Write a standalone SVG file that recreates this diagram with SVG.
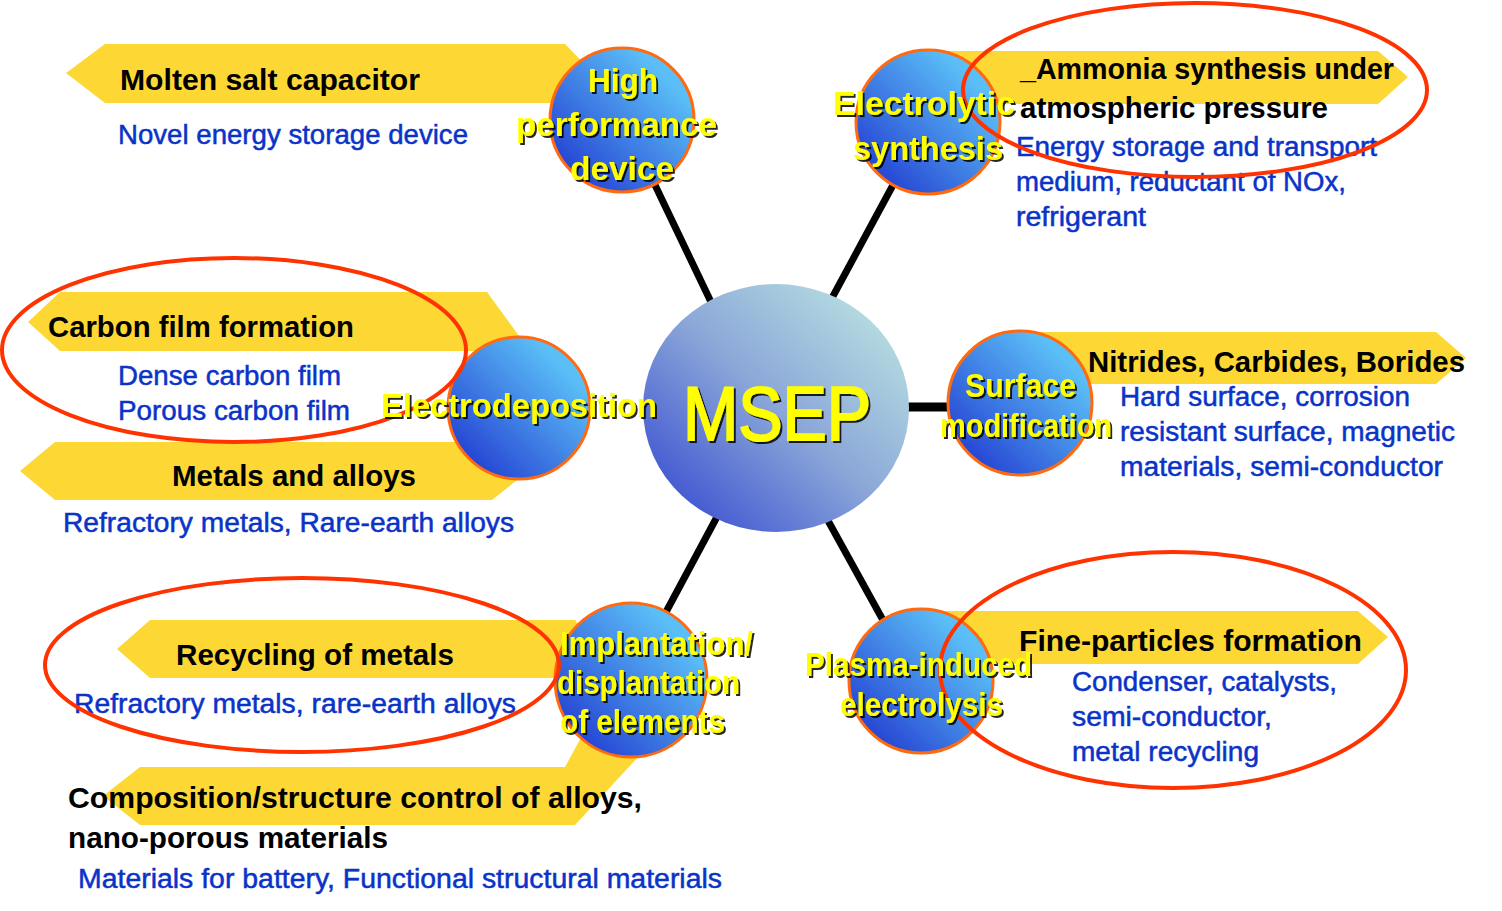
<svg xmlns="http://www.w3.org/2000/svg" width="1502" height="911" viewBox="0 0 1502 911">
<defs>
<linearGradient id="gSat" x1="0" y1="1" x2="1" y2="0">
<stop offset="0" stop-color="#1a2ccc"/>
<stop offset="0.45" stop-color="#3f7ee4"/>
<stop offset="0.8" stop-color="#5bbef7"/>
<stop offset="1" stop-color="#5ec6fa"/>
</linearGradient>
<linearGradient id="gHub" x1="0" y1="1" x2="1" y2="0">
<stop offset="0" stop-color="#2a3ed0"/>
<stop offset="0.5" stop-color="#8aa6d8"/>
<stop offset="0.85" stop-color="#b2d8e0"/>
<stop offset="1" stop-color="#b6e0e0"/>
</linearGradient>
<filter id="sh" x="-10%" y="-20%" width="120%" height="150%">
<feDropShadow dx="2" dy="2" stdDeviation="0.7" flood-color="#000" flood-opacity="0.85"/>
</filter>
</defs>
<style>
.ban{fill:#fdd835}
.sat{fill:url(#gSat);stroke:#ff6a10;stroke-width:3}
.ring{fill:none;stroke:#ff3300;stroke-width:4}
.blk{font-family:"Liberation Sans",Arial,sans-serif;font-size:30px;font-weight:bold;fill:#000}
.blu{font-family:"Liberation Sans",Arial,sans-serif;font-size:27px;fill:#0a33c8;stroke:#0a33c8;stroke-width:0.5}
.lbl{font-family:"Liberation Sans",Arial,sans-serif;font-size:33px;font-weight:bold;fill:#ffff00;filter:url(#sh)}
.con{stroke:#000;stroke-width:7;fill:none}
</style>
<rect width="1502" height="911" fill="#fff"/>

<g id="connectors">
<line class="con" x1="655" y1="185" x2="711" y2="302"/>
<line class="con" x1="893" y1="185" x2="832" y2="298"/>
<line class="con" x1="905" y1="407" x2="950" y2="407" style="stroke-width:9"/>
<line class="con" x1="718" y1="515" x2="666" y2="612"/>
<line class="con" x1="826" y1="517" x2="884" y2="622"/>
</g>

<g id="hub">
<ellipse cx="776" cy="408" rx="133" ry="124" fill="url(#gHub)"/>
<text class="lbl" x="683" y="440" style="font-size:76px;font-weight:normal;stroke:#ffff00;stroke-width:2" textLength="188" lengthAdjust="spacingAndGlyphs">MSEP</text>
</g>

<g id="node-high-performance-device">
<polygon class="ban" points="66,73 105,44 565,44 600,80 600,103 105,103"/>
<circle class="sat" cx="622" cy="120" r="72"/>
<text class="blk" x="120" y="90" textLength="300" lengthAdjust="spacingAndGlyphs">Molten salt capacitor</text>
<text class="blu" x="118" y="144" textLength="350" lengthAdjust="spacingAndGlyphs">Novel energy storage device</text>
<text class="lbl" x="588" y="92" textLength="70" lengthAdjust="spacingAndGlyphs">High</text>
<text class="lbl" x="516" y="136" textLength="201" lengthAdjust="spacingAndGlyphs">performance</text>
<text class="lbl" x="570" y="180" textLength="104" lengthAdjust="spacingAndGlyphs">device</text>
</g>

<g id="node-electrolytic-synthesis">
<polygon class="ban" points="935,51 1378,51 1408,77 1378,104 935,104"/>
<circle class="sat" cx="928" cy="122" r="72"/>
<text class="blk" x="1020" y="79" textLength="374" lengthAdjust="spacingAndGlyphs">_Ammonia synthesis under</text>
<text class="blk" x="1020" y="118" textLength="308" lengthAdjust="spacingAndGlyphs">atmospheric pressure</text>
<text class="blu" x="1016" y="156" textLength="361" lengthAdjust="spacingAndGlyphs">Energy storage and transport</text>
<text class="blu" x="1016" y="191" textLength="330" lengthAdjust="spacingAndGlyphs">medium, reductant of NOx,</text>
<text class="blu" x="1016" y="226" textLength="130" lengthAdjust="spacingAndGlyphs">refrigerant</text>
<ellipse class="ring" cx="1195" cy="90" rx="232" ry="87"/>
<text class="lbl" x="833" y="115" textLength="182" lengthAdjust="spacingAndGlyphs">Electrolytic</text>
<text class="lbl" x="853" y="160" textLength="150" lengthAdjust="spacingAndGlyphs">synthesis</text>
</g>

<g id="node-electrodeposition">
<polygon class="ban" points="28,322 60,292 487,292 530,351 60,351"/>
<polygon class="ban" points="20,471 55,442 530,442 530,470 492,500 55,500"/>
<circle class="sat" cx="519" cy="408" r="71"/>
<text class="blk" x="48" y="337" textLength="306" lengthAdjust="spacingAndGlyphs">Carbon film formation</text>
<text class="blu" x="118" y="385" textLength="223" lengthAdjust="spacingAndGlyphs">Dense carbon film</text>
<text class="blu" x="118" y="420" textLength="232" lengthAdjust="spacingAndGlyphs">Porous carbon film</text>
<text class="blk" x="172" y="486" textLength="244" lengthAdjust="spacingAndGlyphs">Metals and alloys</text>
<text class="blu" x="63" y="532" textLength="451" lengthAdjust="spacingAndGlyphs">Refractory metals, Rare-earth alloys</text>
<ellipse class="ring" cx="234" cy="350" rx="232" ry="92"/>
<text class="lbl" x="381" y="417" textLength="276" lengthAdjust="spacingAndGlyphs">Electrodeposition</text>
</g>

<g id="node-surface-modification">
<polygon class="ban" points="1030,332 1436,332 1466,358 1436,384 1030,384"/>
<circle class="sat" cx="1020" cy="403" r="72"/>
<text class="blk" x="1088" y="372" textLength="377" lengthAdjust="spacingAndGlyphs">Nitrides, Carbides, Borides</text>
<text class="blu" x="1120" y="406" textLength="290" lengthAdjust="spacingAndGlyphs">Hard surface, corrosion</text>
<text class="blu" x="1120" y="441" textLength="335" lengthAdjust="spacingAndGlyphs">resistant surface, magnetic</text>
<text class="blu" x="1120" y="476" textLength="323" lengthAdjust="spacingAndGlyphs">materials, semi-conductor</text>
<text class="lbl" x="965" y="397" textLength="111" lengthAdjust="spacingAndGlyphs">Surface</text>
<text class="lbl" x="940" y="437" textLength="172" lengthAdjust="spacingAndGlyphs">modification</text>
</g>

<g id="node-implantation">
<polygon class="ban" points="117,649 150,620 575,620 600,650 600,678 150,678"/>
<polygon class="ban" points="103,796 140,767 565,767 595,712 680,712 575,825 140,825"/>
<ellipse class="sat" cx="631" cy="680" rx="76" ry="77"/>
<text class="blk" x="176" y="665" textLength="278" lengthAdjust="spacingAndGlyphs">Recycling of metals</text>
<text class="blu" x="74" y="713" textLength="442" lengthAdjust="spacingAndGlyphs">Refractory metals, rare-earth alloys</text>
<text class="blk" x="68" y="808" textLength="574" lengthAdjust="spacingAndGlyphs">Composition/structure control of alloys,</text>
<text class="blk" x="68" y="848" textLength="320" lengthAdjust="spacingAndGlyphs">nano-porous materials</text>
<text class="blu" x="78" y="888" textLength="644" lengthAdjust="spacingAndGlyphs">Materials for battery, Functional structural materials</text>
<ellipse class="ring" cx="302" cy="665" rx="257" ry="87"/>
<text class="lbl" x="560" y="655" textLength="193" lengthAdjust="spacingAndGlyphs">Implantation/</text>
<text class="lbl" x="557" y="694" textLength="183" lengthAdjust="spacingAndGlyphs">displantation</text>
<text class="lbl" x="560" y="733" textLength="165" lengthAdjust="spacingAndGlyphs">of elements</text>
</g>

<g id="node-plasma-induced-electrolysis">
<polygon class="ban" points="935,611 1358,611 1388,637 1358,664 935,664"/>
<circle class="sat" cx="921" cy="681" r="72"/>
<text class="blk" x="1019" y="651" textLength="343" lengthAdjust="spacingAndGlyphs">Fine-particles formation</text>
<text class="blu" x="1072" y="691" textLength="265" lengthAdjust="spacingAndGlyphs">Condenser, catalysts,</text>
<text class="blu" x="1072" y="726" textLength="200" lengthAdjust="spacingAndGlyphs">semi-conductor,</text>
<text class="blu" x="1072" y="761" textLength="187" lengthAdjust="spacingAndGlyphs">metal recycling</text>
<ellipse class="ring" cx="1173" cy="670" rx="233" ry="118"/>
<text class="lbl" x="805" y="676" textLength="227" lengthAdjust="spacingAndGlyphs">Plasma-induced</text>
<text class="lbl" x="840" y="716" textLength="163" lengthAdjust="spacingAndGlyphs">electrolysis</text>
</g>
</svg>
